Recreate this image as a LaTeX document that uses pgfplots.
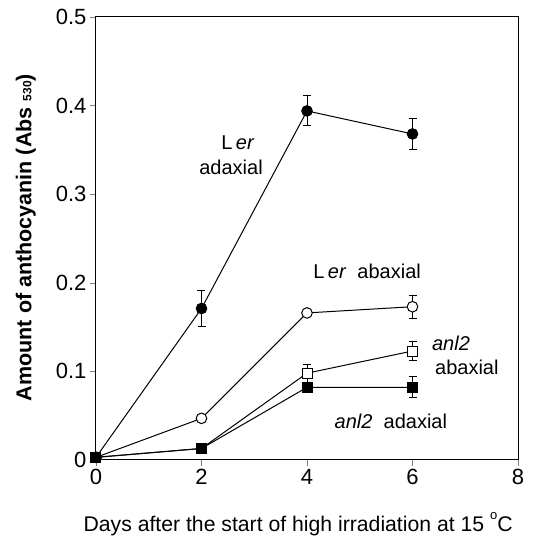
\documentclass[border=0pt]{standalone}
\usepackage{pgfplots}
\pgfplotsset{compat=1.18}
\usepackage{fontspec}
\setmainfont{Liberation Sans}
\begin{document}
\begin{tikzpicture}
\begin{axis}[
  name=ax,
  scale only axis,
  width=422pt, height=443pt,
  xmin=0, xmax=8, ymin=0, ymax=0.5,
  xtick={0,2,4,6,8}, ytick={0,0.1,0.2,0.3,0.4,0.5},
  tick align=outside, tick pos=left,
  major tick length=6pt,
  axis line style={line width=1pt},
  /pgf/number format/assume math mode=true,
  tick label style={font=\fontsize{22}{26}\selectfont},
  yticklabel style={/pgf/number format/fixed},
  xlabel={Days after the start of high irradiation at 15 \raisebox{0.55em}{\fontsize{13}{15}\selectfont o}C},
  ylabel={\bfseries Amount of anthocyanin (Abs \fontsize{12}{14}\selectfont 530\fontsize{21.5}{24}\selectfont)},
  xlabel style={font=\fontsize{21.2}{24}\selectfont, at={(axis description cs:0.479,-0.1603)}, anchor=base},
  ylabel style={font=\fontsize{21.5}{24}\selectfont, at={(axis description cs:-0.153,0.502)}, anchor=base},
  clip=false,
  every axis plot/.append style={line width=1pt, black},
  error bars/error bar style={line width=1pt},
  error bars/error mark options={rotate=90, mark size=4pt, line width=1pt},
]
% Ler adaxial
\addplot[mark=*, mark size=5.3pt, mark options={fill=black},
  error bars/.cd, y dir=both, y explicit]
  coordinates {(0,0.003) +- (0,0) (2,0.171) +- (0,0.020) (4,0.394) +- (0,0.017) (6,0.368) +- (0,0.018)};
% Ler abaxial
\addplot[mark=*, mark size=5.3pt, mark options={fill=white},
  error bars/.cd, y dir=both, y explicit]
  coordinates {(0,0.003) +- (0,0) (2,0.047) +- (0,0) (4,0.166) +- (0,0) (6,0.173) +- (0,0.013)};
% anl2 abaxial
\addplot[mark=square*, mark size=5pt, mark options={fill=white},
  error bars/.cd, y dir=both, y explicit]
  coordinates {(0,0.003) +- (0,0) (2,0.013) +- (0,0) (4,0.098) +- (0,0.010) (6,0.123) +- (0,0.011)};
% anl2 adaxial
\addplot[mark=square*, mark size=5pt, mark options={fill=black},
  error bars/.cd, y dir=both, y explicit]
  coordinates {(0,0.003) +- (0,0) (2,0.013) +- (0,0) (4,0.082) +- (0,0) (6,0.082) +- (0,0.012)};
\node[font=\fontsize{20}{24}\selectfont, anchor=base] at (axis cs:2.69,0.350) {L\,\textit{er}};
\node[font=\fontsize{20}{24}\selectfont, anchor=base] at (axis cs:2.56,0.322) {adaxial};
\node[font=\fontsize{20}{24}\selectfont, anchor=base] at (axis cs:5.14,0.205) {L\,\textit{er}\ \ abaxial};
\node[font=\fontsize{20}{24}\selectfont, anchor=base] at (axis cs:6.73,0.124) {\textit{anl2}};
\node[font=\fontsize{20}{24}\selectfont, anchor=base] at (axis cs:7.03,0.096) {abaxial};
\node[font=\fontsize{20}{24}\selectfont, anchor=base] at (axis cs:5.59,0.036) {\textit{anl2}\ \ adaxial};
\end{axis}
\pgfresetboundingbox
\path[use as bounding box] ([xshift=-96pt,yshift=-77pt]ax.south west) rectangle ([xshift=30pt,yshift=17pt]ax.north east);
\end{tikzpicture}
\end{document}
